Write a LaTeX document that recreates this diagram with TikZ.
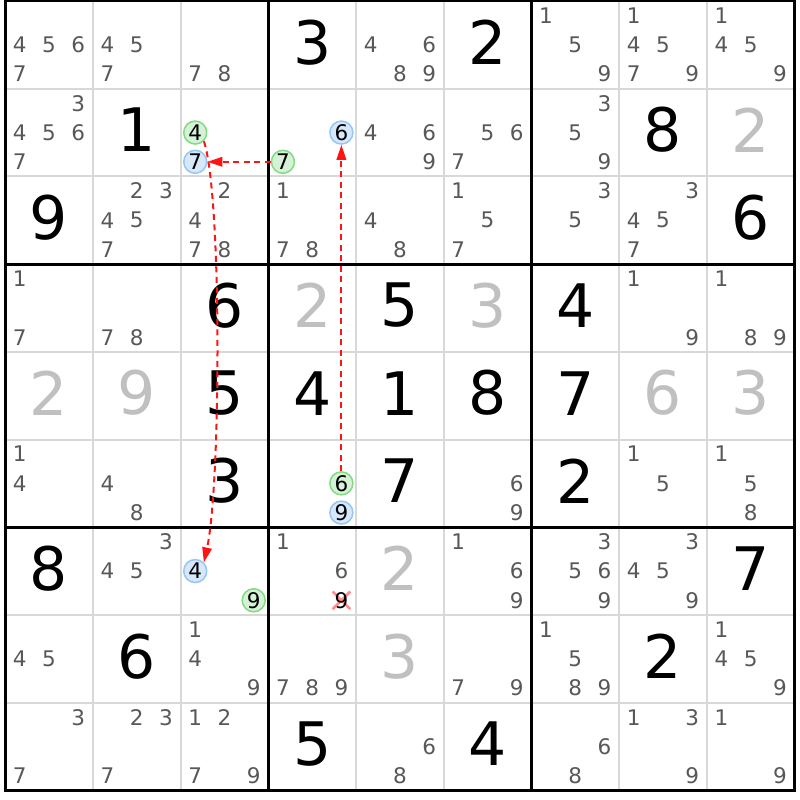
\documentclass[tikz,border=0pt]{standalone}
\usepackage{fontspec}
\setmainfont{DejaVu Sans}
\usetikzlibrary{arrows.meta,shapes.misc}
\definecolor{candgray}{RGB}{88,88,88}
\definecolor{solvedgray}{RGB}{192,192,192}
\definecolor{gridgray}{RGB}{216,216,216}
\definecolor{greenfill}{RGB}{214,242,214}
\definecolor{greenline}{RGB}{130,218,130}
\definecolor{bluefill}{RGB}{214,232,250}
\definecolor{blueline}{RGB}{150,198,245}
\definecolor{chainred}{RGB}{255,20,20}
\definecolor{crosspink}{RGB}{255,140,140}
\def\X{5.2}
\def\Y{1}
\def\C{87.7}
\def\S{29.2333}
\newcommand\sgiven[3]{\node[given] (v#1#2) at ({\X+(#2+0.5)*\C},{\Y+(#1+0.5)*\C-2.5}) {#3};}
\newcommand\ssolved[3]{\node[solved] (v#1#2) at ({\X+(#2+0.5)*\C},{\Y+(#1+0.5)*\C-2.5}) {#3};}
\newcommand\scands[3]{\foreach \n in {#3}{\node[cand] (c#1#2\n) at ({\X+#2*\C+(mod(\n-1,3)+0.5)*\S},{\Y+#1*\C+(floor((\n-1)/3)+0.5)*\S}) {\n};}}
\newcommand\scirc[5]{\node[#4] (#5) at ({\X+#2*\C+(mod(#3-1,3)+0.5)*\S},{\Y+#1*\C+(floor((#3-1)/3)+0.5)*\S}) {#3};}
\begin{document}
\begin{tikzpicture}[x=1pt,y=-1pt,
  given/.style={font=\fontsize{60}{60}\selectfont, text=black, inner sep=0pt},
  solved/.style={font=\fontsize{60}{60}\selectfont, text=solvedgray, inner sep=0pt},
  cand/.style={font=\fontsize{21.5}{21.5}\selectfont, text=candgray, inner sep=0pt},
  circbase/.style={circle, line width=1.5pt, minimum size=23pt, inner sep=0pt, font=\fontsize{21.5}{21.5}\selectfont, text=black},
  gcirc/.style={circbase, draw=greenline, fill=greenfill},
  bcirc/.style={circbase, draw=blueline, fill=bluefill},
  plain/.style={inner sep=0pt, font=\fontsize{21.5}{21.5}\selectfont, text=black},
  xmark/.style={cross out, draw=crosspink, line width=2.6pt, minimum size=15pt, inner sep=0pt},
  thingrid/.style={draw=gridgray, line width=2pt},
  thickgrid/.style={draw=black, line width=3pt},
  chain/.style={color=chainred, line width=2pt, dash pattern=on 6pt off 4.5pt, -{Triangle[length=15pt,width=9.5pt]}}]
\useasboundingbox (0,0) rectangle (800,800);
\fill[white] (0,0) rectangle (800,800);
% grid
\foreach \i in {1,2,4,5,7,8}{
  \draw[thingrid] ({\X+\i*\C},{\Y}) -- ({\X+\i*\C},{\Y+9*\C});
  \draw[thingrid] ({\X},{\Y+\i*\C}) -- ({\X+9*\C},{\Y+\i*\C});
}
\foreach \i in {3,6}{
  \draw[thickgrid] ({\X+\i*\C},{\Y}) -- ({\X+\i*\C},{\Y+9*\C});
  \draw[thickgrid] ({\X},{\Y+\i*\C}) -- ({\X+9*\C},{\Y+\i*\C});
}
\draw[thickgrid] ({\X},{\Y}) rectangle ({\X+9*\C},{\Y+9*\C});
% row 0
\scands{0}{0}{4,5,6,7} \scands{0}{1}{4,5,7} \scands{0}{2}{7,8} \sgiven{0}{3}{3}
\scands{0}{4}{4,6,8,9} \sgiven{0}{5}{2} \scands{0}{6}{1,5,9} \scands{0}{7}{1,4,5,7,9} \scands{0}{8}{1,4,5,9}
% row 1
\scands{1}{0}{3,4,5,6,7} \sgiven{1}{1}{1}
\scirc{1}{2}{4}{gcirc}{g4} \scirc{1}{2}{7}{bcirc}{b7}
\scirc{1}{3}{6}{bcirc}{b6} \scirc{1}{3}{7}{gcirc}{g7}
\scands{1}{4}{4,6,9} \scands{1}{5}{5,6,7} \scands{1}{6}{3,5,9} \sgiven{1}{7}{8} \ssolved{1}{8}{2}
% row 2
\sgiven{2}{0}{9} \scands{2}{1}{2,3,4,5,7} \scands{2}{2}{2,4,7,8} \scands{2}{3}{1,7,8} \scands{2}{4}{4,8}
\scands{2}{5}{1,5,7} \scands{2}{6}{3,5} \scands{2}{7}{3,4,5,7} \sgiven{2}{8}{6}
% row 3
\scands{3}{0}{1,7} \scands{3}{1}{7,8} \sgiven{3}{2}{6} \ssolved{3}{3}{2} \sgiven{3}{4}{5}
\ssolved{3}{5}{3} \sgiven{3}{6}{4} \scands{3}{7}{1,9} \scands{3}{8}{1,8,9}
% row 4
\ssolved{4}{0}{2} \ssolved{4}{1}{9} \sgiven{4}{2}{5} \sgiven{4}{3}{4} \sgiven{4}{4}{1}
\sgiven{4}{5}{8} \sgiven{4}{6}{7} \ssolved{4}{7}{6} \ssolved{4}{8}{3}
% row 5
\scands{5}{0}{1,4} \scands{5}{1}{4,8} \sgiven{5}{2}{3}
\scirc{5}{3}{6}{gcirc}{g6} \scirc{5}{3}{9}{bcirc}{b9}
\sgiven{5}{4}{7} \scands{5}{5}{6,9} \sgiven{5}{6}{2} \scands{5}{7}{1,5} \scands{5}{8}{1,5,8}
% row 6
\sgiven{6}{0}{8} \scands{6}{1}{3,4,5}
\scirc{6}{2}{4}{bcirc}{b4} \scirc{6}{2}{9}{gcirc}{g9}
\scands{6}{3}{1,6}
\node[xmark] (x9) at ({\X+3*\C+2.5*\S},{\Y+6*\C+2.5*\S}) {};
\scirc{6}{3}{9}{plain}{e9}
\ssolved{6}{4}{2} \scands{6}{5}{1,6,9} \scands{6}{6}{3,5,6,9} \scands{6}{7}{3,4,5,9} \sgiven{6}{8}{7}
% row 7
\scands{7}{0}{4,5} \sgiven{7}{1}{6} \scands{7}{2}{1,4,9} \scands{7}{3}{7,8,9} \ssolved{7}{4}{3}
\scands{7}{5}{7,9} \scands{7}{6}{1,5,8,9} \sgiven{7}{7}{2} \scands{7}{8}{1,4,5,9}
% row 8
\scands{8}{0}{3,7} \scands{8}{1}{2,3,7} \scands{8}{2}{1,2,7,9} \sgiven{8}{3}{5} \scands{8}{4}{6,8}
\sgiven{8}{5}{4} \scands{8}{6}{6,8} \scands{8}{7}{1,3,9} \scands{8}{8}{1,9}
% chains
\draw[chain] (g7) -- (b7);
\draw[chain] (g6) -- (b6);
\draw[chain] (g4.-45) .. controls (222,195) and (221,485) .. (b4.45);
\end{tikzpicture}
\end{document}
